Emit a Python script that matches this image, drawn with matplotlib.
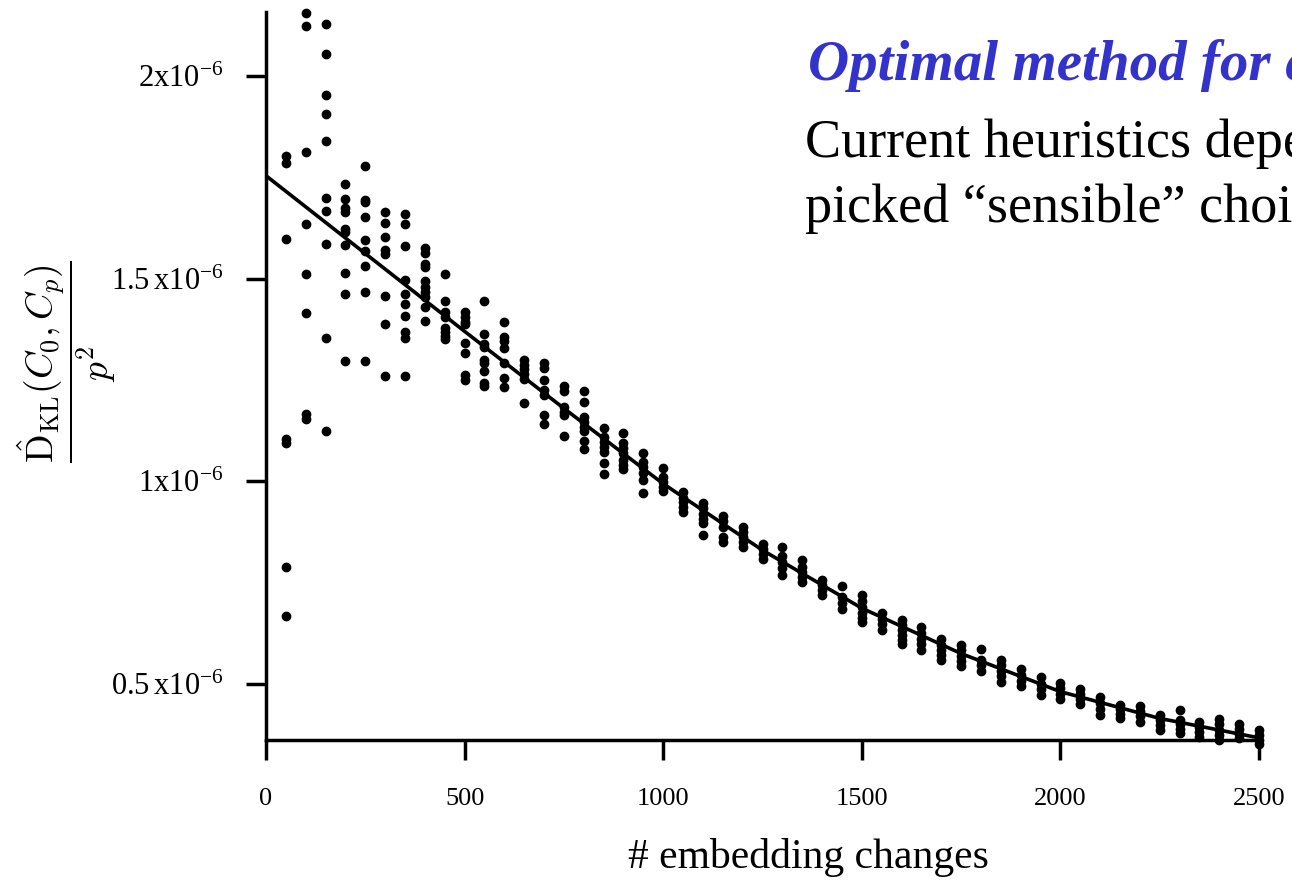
import numpy as np
import matplotlib
matplotlib.use("Agg")
import matplotlib.pyplot as plt

plt.rcParams['font.family'] = ['Liberation Serif', 'DejaVu Serif']
plt.rcParams['mathtext.fontset'] = 'cm'

### data (values in units of 1e-6)
changes = list(range(50, 2501, 50))
kl_samples = [
    [1.803, 1.786, 1.598, 1.104, 1.095, 0.789, 0.668],
    [2.155, 2.123, 1.812, 1.635, 1.511, 1.415, 1.165, 1.154],
    [2.128, 2.054, 1.952, 1.906, 1.839, 1.700, 1.667, 1.586, 1.353, 1.124],
    [1.733, 1.697, 1.674, 1.665, 1.622, 1.616, 1.583, 1.514, 1.462, 1.296],
    [1.779, 1.694, 1.689, 1.653, 1.595, 1.568, 1.531, 1.466, 1.297],
    [1.664, 1.638, 1.604, 1.571, 1.560, 1.457, 1.387, 1.260],
    [1.659, 1.634, 1.580, 1.497, 1.461, 1.438, 1.409, 1.369, 1.354, 1.260],
    [1.575, 1.563, 1.535, 1.530, 1.494, 1.480, 1.468, 1.455, 1.430, 1.396],
    [1.512, 1.445, 1.417, 1.406, 1.379, 1.369, 1.359, 1.351],
    [1.419, 1.406, 1.394, 1.388, 1.342, 1.316, 1.262, 1.250],
    [1.446, 1.363, 1.339, 1.332, 1.299, 1.291, 1.273, 1.242, 1.234],
    [1.394, 1.357, 1.346, 1.328, 1.291, 1.254, 1.232],
    [1.299, 1.287, 1.276, 1.264, 1.252, 1.193],
    [1.291, 1.279, 1.250, 1.225, 1.213, 1.164, 1.141],
    [1.235, 1.223, 1.184, 1.172, 1.164, 1.112],
    [1.223, 1.195, 1.158, 1.147, 1.135, 1.123, 1.100, 1.080],
    [1.131, 1.110, 1.098, 1.085, 1.073, 1.046, 1.017],
    [1.118, 1.095, 1.081, 1.069, 1.053, 1.041, 1.030],
    [1.069, 1.048, 1.036, 1.020, 1.003, 0.970],
    [1.032, 1.010, 0.998, 0.987, 0.975],
    [0.974, 0.960, 0.948, 0.936, 0.925],
    [0.946, 0.934, 0.920, 0.908, 0.896, 0.868],
    [0.915, 0.902, 0.888, 0.863, 0.851],
    [0.887, 0.875, 0.863, 0.851, 0.839],
    [0.845, 0.833, 0.820, 0.808],
    [0.837, 0.815, 0.800, 0.785, 0.770],
    [0.807, 0.789, 0.776, 0.764, 0.752],
    [0.757, 0.745, 0.732, 0.720],
    [0.742, 0.715, 0.700, 0.686],
    [0.720, 0.705, 0.690, 0.675, 0.662, 0.652],
    [0.674, 0.661, 0.647, 0.634],
    [0.658, 0.645, 0.632, 0.620, 0.608, 0.599],
    [0.640, 0.626, 0.612, 0.598, 0.584],
    [0.610, 0.597, 0.585, 0.572, 0.560],
    [0.596, 0.583, 0.570, 0.557, 0.545],
    [0.586, 0.559, 0.546, 0.533],
    [0.559, 0.546, 0.532, 0.519, 0.506],
    [0.537, 0.522, 0.508, 0.494],
    [0.516, 0.501, 0.487, 0.473],
    [0.503, 0.490, 0.476, 0.463],
    [0.487, 0.475, 0.463, 0.451],
    [0.467, 0.453, 0.438, 0.424],
    [0.448, 0.437, 0.426, 0.415],
    [0.446, 0.433, 0.420, 0.407],
    [0.424, 0.411, 0.398, 0.386],
    [0.436, 0.411, 0.400, 0.389, 0.378],
    [0.407, 0.395, 0.382, 0.370],
    [0.413, 0.400, 0.387, 0.374, 0.362],
    [0.401, 0.389, 0.377, 0.366],
    [0.387, 0.375, 0.362, 0.352],
]
fit_x = [0, 250, 500, 750, 1000, 1250, 1500, 1750, 2000, 2250, 2500]
fit_y = [1.754, 1.562, 1.370, 1.180, 0.994, 0.830, 0.687, 0.575, 0.481, 0.415, 0.367]

xticks = [0, 500, 1000, 1500, 2000, 2500]
yticks = [0.5, 1.0, 1.5, 2.0]
ytick_labels = [r'$\mathregular{0.5\,x10^{-6}}$', r'$\mathregular{1x10^{-6}}$',
                r'$\mathregular{1.5\,x10^{-6}}$', r'$\mathregular{2x10^{-6}}$']

###plot
fig = plt.figure(figsize=(12.92, 8.82), dpi=100)
ax = fig.add_axes([266/1292, 1-740/882, 993/1292, 728/882])

px = np.concatenate([[c]*len(v) for c, v in zip(changes, kl_samples)])
py = np.concatenate(kl_samples) * 1e-6
ax.plot(px, py, 'o', color='black', markersize=6, clip_on=False, zorder=3)
ax.plot(fit_x, np.array(fit_y)*1e-6, color='black', lw=2.6, zorder=2)

ax.set_xlim(0, 2500)
ax.set_ylim(0.3617e-6, 2.158e-6)
for s in ['top', 'right']:
    ax.spines[s].set_visible(False)
for s in ['left', 'bottom']:
    ax.spines[s].set_linewidth(2.5)
ax.set_xticks(xticks)
ax.set_xticklabels([str(t) for t in xticks])
ax.set_yticks(np.array(yticks)*1e-6)
ax.set_yticklabels(ytick_labels)
ax.tick_params(axis='both', direction='out', length=14.5, width=2.5, labelsize=19)
ax.tick_params(axis='x', pad=20)
ax.tick_params(axis='y', pad=16, labelsize=22)

fig.text(808/1292, 1-868/882, '# embedding changes', fontsize=30, ha='center', va='baseline')
fig.text(67/1292, 1-362/882, r'$\dfrac{\hat{\mathrm{D}}_{\mathrm{KL}}(C_0,C_p)}{p^2}$',
         fontsize=27, rotation=90, ha='center', va='center')

fig.text(808/1292, 1-80/882, 'Optimal method for embedding', fontsize=41, color='#3333cc',
         fontweight='bold', fontstyle='italic', va='baseline')
fig.text(805/1292, 1-157/882, 'Current heuristics depend on', fontsize=39, va='baseline')
fig.text(805/1292, 1-222/882, 'picked \u201csensible\u201d choices', fontsize=39, va='baseline')

plt.savefig('out.png', dpi=100)
